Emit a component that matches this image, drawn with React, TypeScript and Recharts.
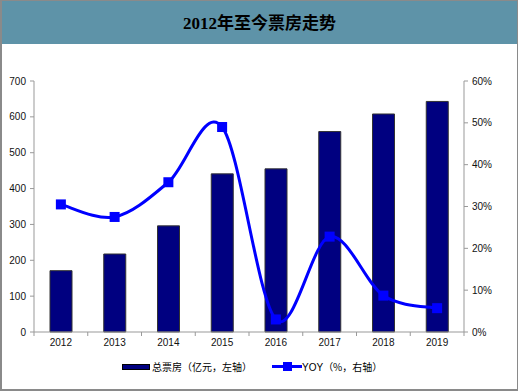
import React from 'react';
import { ComposedChart, Bar, Line, XAxis, YAxis } from 'recharts';

const years = ['2012', '2013', '2014', '2015', '2016', '2017', '2018', '2019'];
const boxOffice = [171, 217.5, 296, 441, 455, 559, 608, 643];
const yoy = [30.5, 27.5, 35.8, 49, 3, 22.8, 8.7, 5.7];
const leftTicks = [0, 100, 200, 300, 400, 500, 600, 700];
const rightTicks = [0, 10, 20, 30, 40, 50, 60];

const data = years.map((year, i) => ({ year, boxOffice: boxOffice[i], yoy: yoy[i] }));

const FONT = '"Liberation Sans", Arial, sans-serif';
const CJK = '"Noto Sans CJK SC", "Liberation Sans", sans-serif';

// Excel-like smooth curve (Catmull-Rom through the points)
function smoothCurve(context: any) {
  let pts: number[][] = [];
  return {
    areaStart() {},
    areaEnd() {},
    lineStart() {
      pts = [];
    },
    point(x: number, y: number) {
      pts.push([+x, +y]);
    },
    lineEnd() {
      const n = pts.length;
      if (!n) return;
      context.moveTo(pts[0][0], pts[0][1]);
      for (let i = 0; i < n - 1; i++) {
        const p0 = pts[i - 1] || pts[i];
        const p1 = pts[i];
        const p2 = pts[i + 1];
        const p3 = pts[i + 2] || p2;
        const c1x = p1[0] + (p2[0] - p0[0]) / 6;
        const c1y = p1[1] + (p2[1] - p0[1]) / 6;
        const c2x = p2[0] - (p3[0] - p1[0]) / 6;
        const c2y = p2[1] - (p3[1] - p1[1]) / 6;
        context.bezierCurveTo(c1x, c1y, c2x, c2y, p2[0], p2[1]);
      }
    },
  };
}

const XTick = (props: any) => {
  const { x, y, payload, index } = props;
  const half = payload && payload.offset > 0 ? payload.offset : 26.875;
  return (
    <g>
      <line x1={x - half} x2={x - half} y1={y - 7} y2={y - 3} stroke="#999" />
      {index === years.length - 1 && (
        <line x1={x + half} x2={x + half} y1={y - 7} y2={y - 3} stroke="#999" />
      )}
      <text x={x} y={y} dy="0.71em" textAnchor="middle" fontSize={10} fill="#111" fontFamily={FONT}>
        {payload.value}
      </text>
    </g>
  );
};

const SquareDot = (props: any) => {
  const { cx, cy, index } = props;
  if (cx == null || cy == null) return <g key={`d-${index}`} />;
  return <rect key={`d-${index}`} x={cx - 5} y={cy - 5} width={10} height={10} fill="#0000FF" />;
};

export default function App() {
  return (
    <div style={{ position: 'absolute', left: 0, top: 0, width: 518, height: 391, background: '#fff', overflow: 'hidden' }}>
      <div
        style={{
          position: 'absolute',
          left: 2,
          top: 1,
          width: 515,
          height: 43,
          background: '#5E93A8',
          textAlign: 'center',
          lineHeight: '45px',
          fontFamily: '"Liberation Serif", "Noto Sans CJK SC", serif',
          fontWeight: 'bold',
          fontSize: 17,
          color: '#000',
        }}
      >
        2012年至今票房走势
      </div>
      <div style={{ position: 'absolute', left: 0, top: 0 }}>
        <ComposedChart width={518} height={391} data={data} margin={{ top: 81, right: 0, bottom: 39, left: 0 }}>
          <XAxis
            dataKey="year"
            interval={0}
            axisLine={{ stroke: '#999' }}
            tickLine={{ stroke: 'none' }}
            tickSize={4}
            tickMargin={3}
            tick={<XTick />}
            height={20}
          />
          <YAxis
            yAxisId="left"
            domain={[0, 700]}
            ticks={leftTicks}
            width={34}
            axisLine={{ stroke: '#999' }}
            tickLine={{ stroke: '#999' }}
            tickSize={4}
            tickMargin={4}
            tick={{ fontSize: 10, fill: '#111', fontFamily: FONT }}
          />
          <YAxis
            yAxisId="right"
            orientation="right"
            domain={[0, 60]}
            ticks={rightTicks}
            width={54}
            axisLine={{ stroke: '#999' }}
            tickLine={{ stroke: '#999' }}
            tickSize={4}
            tickMargin={4}
            tickFormatter={(v: number) => `${v}%`}
            tick={{ fontSize: 10, fill: '#111', fontFamily: FONT, textAnchor: 'start' }}
          />
          <Bar
            yAxisId="left"
            dataKey="boxOffice"
            barSize={22}
            fill="#000080"
            stroke="#333"
            strokeWidth={1}
            isAnimationActive={false}
          />
          <Line
            yAxisId="right"
            dataKey="yoy"
            type={smoothCurve as any}
            stroke="#0000FF"
            strokeWidth={3}
            dot={SquareDot as any}
            activeDot={false}
            isAnimationActive={false}
          />
        </ComposedChart>
      </div>
      <div style={{ position: 'absolute', left: 0, top: 359, width: 518, height: 16, fontSize: 10, fontFamily: CJK, color: '#000' }}>
        <div style={{ position: 'absolute', left: 122, top: 5, width: 26, height: 4, background: '#000080', border: '1px solid #000' }} />
        <span style={{ position: 'absolute', left: 152, top: 0, lineHeight: '16px', whiteSpace: 'nowrap' }}>总票房（亿元，左轴）</span>
        <div style={{ position: 'absolute', left: 272, top: 6, width: 30, height: 3, background: '#0000FF' }} />
        <div style={{ position: 'absolute', left: 283, top: 3, width: 9, height: 9, background: '#0000FF' }} />
        <span style={{ position: 'absolute', left: 302, top: 0, lineHeight: '16px', whiteSpace: 'nowrap' }}>
          <span style={{ fontFamily: FONT }}>YOY</span>（%，右轴）
        </span>
      </div>
      <div
        style={{
          position: 'absolute',
          left: 0,
          top: 0,
          width: 518,
          height: 391,
          boxSizing: 'border-box',
          borderTop: '1px solid #8a8a8a',
          borderLeft: '2px solid #8a8a8a',
          borderRight: '1px solid #8a8a8a',
          borderBottom: '2px solid #8a8a8a',
          pointerEvents: 'none',
        }}
      />
    </div>
  );
}
